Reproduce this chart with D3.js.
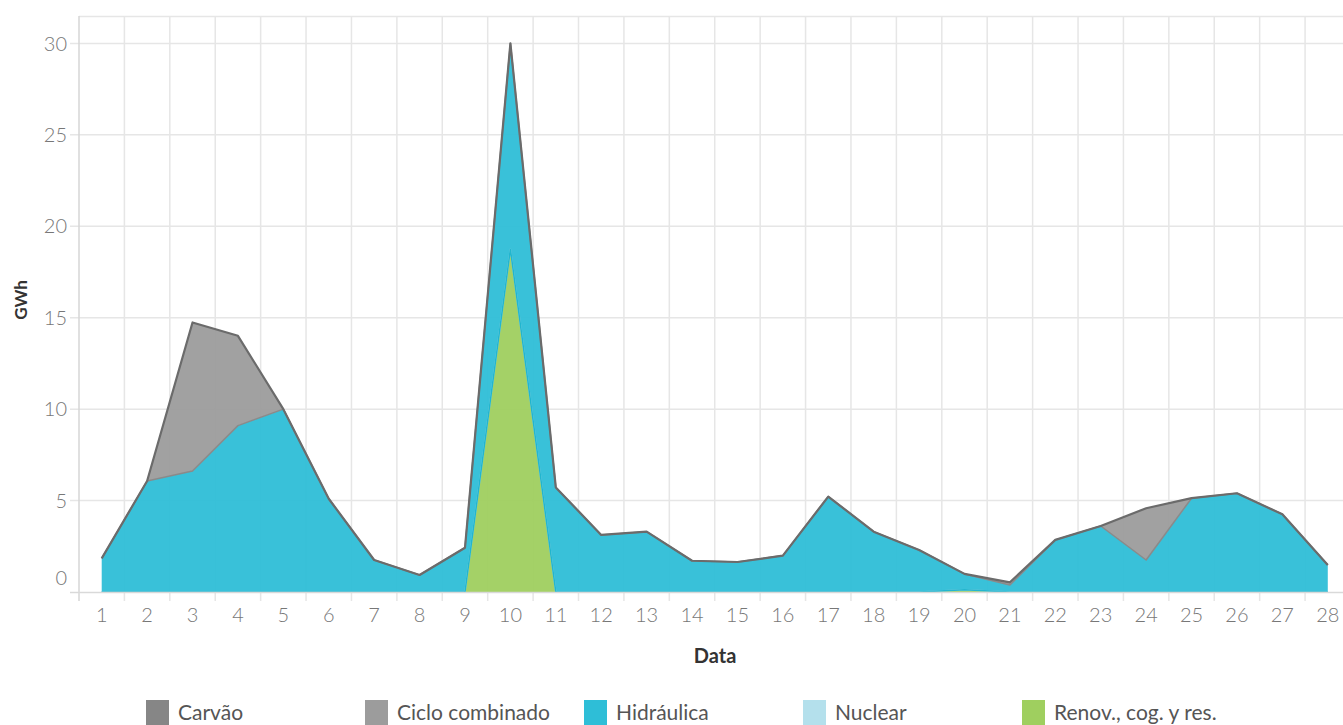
<!DOCTYPE html>
<html>
<head>
<meta charset="utf-8">
<script src="https://cdn.jsdelivr.net/npm/d3@7"></script>
<style>
  html, body { margin: 0; padding: 0; background: #fff; }
  svg { display: block; font-family: Lato, "Open Sans", sans-serif; }
</style>
</head>
<body>
<div id="chart"></div>
<script>
const days = d3.range(1, 29),
  yTicks = [0, 5, 10, 15, 20, 25, 30],
  seriesNames = ["Carvão", "Ciclo combinado", "Hidráulica", "Nuclear", "Renov., cog. y res."];

// GWh per day
const carvao = [0, 0, 0, 0, 0, 0, 0, 0, 0, 0, 0, 0, 0, 0, 0, 0, 0, 0, 0, 0, 0, 0, 0, 0, 0, 0, 0, 0],
  cicloCombinado = [0, 0, 8.12, 4.91, 0, 0, 0, 0, 0, 0, 0, 0, 0, 0, 0, 0, 0, 0, 0, 0, 0.15, 0, 0, 2.83, 0, 0, 0, 0],
  hidraulica = [1.84, 6.07, 6.62, 9.10, 10.0, 5.1, 1.75, 0.93, 2.42, 11.25, 5.72, 3.12, 3.30, 1.71, 1.64, 1.99, 5.22, 3.30, 2.30, 0.87, 0.38, 2.85, 3.61, 1.75, 5.13, 5.40, 4.25, 1.48],
  nuclear = [0, 0, 0, 0, 0, 0, 0, 0, 0, 0, 0, 0, 0, 0, 0, 0, 0, 0, 0, 0, 0, 0, 0, 0, 0, 0, 0, 0],
  renov = [0, 0, 0, 0, 0, 0, 0, 0, 0, 18.75, 0, 0, 0, 0, 0, 0, 0, 0, 0, 0.12, 0, 0, 0, 0, 0, 0, 0, 0];

const WIDTH = 1343,
  HEIGHT = 725,
  TOP = 16,
  BOTTOM = 592,
  LEFT = 79,
  BAND = 45.41,
  GRID = "#e6e6e6",
  fills = {
    "Carvão": "#868686",
    "Ciclo combinado": "#9c9c9c",
    "Hidráulica": "#2ebed7",
    "Nuclear": "#b4e0ec",
    "Renov., cog. y res.": "#9fcf5f"
  },
  edges = {
    "Carvão": "#6b6b6b",
    "Ciclo combinado": "#8a8a8a",
    "Hidráulica": "#22b6cf",
    "Nuclear": "#9fd5e4",
    "Renov., cog. y res.": "#8fc250"
  };

// stack from bottom to top
const table = days.map((d, i) => ({
  day: d,
  "Renov., cog. y res.": renov[i],
  "Nuclear": nuclear[i],
  "Hidráulica": hidraulica[i],
  "Ciclo combinado": cicloCombinado[i],
  "Carvão": carvao[i]
}));
const stackOrder = seriesNames.slice().reverse();
const layers = d3.stack().keys(stackOrder)(table);

const svg = d3.select("#chart").append("svg")
  .attr("width", WIDTH)
  .attr("height", HEIGHT);

const x = d3.scaleBand()
    .domain(days)
    .range([LEFT, LEFT + BAND * days.length])
    .padding(0),
  cx = d => x(d) + x.bandwidth() / 2,
  y = d3.scaleLinear()
    .domain([0, 31.5])
    .range([BOTTOM, TOP]);

// grid
const grid = svg.append("g");
grid.append("line")
  .attr("x1", LEFT).attr("x2", WIDTH)
  .attr("y1", TOP + 0.5).attr("y2", TOP + 0.5)
  .attr("stroke", GRID).attr("stroke-width", 1.5);

grid.selectAll(".hgrid")
  .data(yTicks.filter(t => t > 0))
  .enter()
  .append("line")
  .attr("class", "hgrid")
  .attr("x1", 70).attr("x2", WIDTH)
  .attr("y1", d => y(d)).attr("y2", d => y(d))
  .attr("stroke", GRID).attr("stroke-width", 1.5);

const edgesX = days.map(d => x(d)).concat([x(28) + x.bandwidth()]);
grid.selectAll(".vgrid")
  .data(edgesX)
  .enter()
  .append("line")
  .attr("class", "vgrid")
  .attr("x1", d => d).attr("x2", d => d)
  .attr("y1", TOP).attr("y2", BOTTOM + 9)
  .attr("stroke", (d, i) => i === 0 ? "#d6d6d6" : GRID)
  .attr("stroke-width", 1.5);

// areas
const area = d3.area()
  .x(d => cx(d.data.day))
  .y0(d => y(d[0]))
  .y1(d => y(d[1]));

svg.append("g")
  .selectAll("path")
  .data(layers)
  .enter()
  .append("path")
  .attr("d", area)
  .attr("fill", d => fills[d.key])
  .attr("fill-opacity", 0.95);

// each layer draws its lower edge, later layers over earlier ones
const edgeLine = d3.line()
  .x(d => cx(d.data.day))
  .y(d => y(d[0]));

svg.append("g")
  .selectAll("path")
  .data(layers.slice(1))
  .enter()
  .append("path")
  .attr("d", edgeLine)
  .attr("fill", "none")
  .attr("stroke", d => edges[d.key])
  .attr("stroke-width", d => d.key === "Carvão" ? 2.2 : 1.5)
  .attr("stroke-linejoin", "round");

// baseline
svg.append("line")
  .attr("x1", 70).attr("x2", WIDTH)
  .attr("y1", BOTTOM + 0.5).attr("y2", BOTTOM + 0.5)
  .attr("stroke", "#d9d9d9").attr("stroke-width", 1.5);

// y labels
svg.append("g")
  .selectAll("text")
  .data(yTicks)
  .enter()
  .append("text")
  .attr("x", 67)
  .attr("y", d => d === 0 ? y(d) - 14 : y(d))
  .attr("dy", "0.36em")
  .attr("text-anchor", "end")
  .attr("fill", "#777")
  .attr("font-size", 20)
  .attr("font-weight", 300)
  .text(d => d);

// x labels
svg.append("g")
  .selectAll("text")
  .data(days)
  .enter()
  .append("text")
  .attr("x", d => cx(d))
  .attr("y", 622)
  .attr("text-anchor", "middle")
  .attr("fill", "#777")
  .attr("font-size", 20)
  .attr("font-weight", 300)
  .text(d => d);

svg.append("text")
  .attr("x", 715)
  .attr("y", 663)
  .attr("text-anchor", "middle")
  .attr("fill", "#333")
  .attr("font-size", 20)
  .attr("font-weight", 700)
  .text("Data");

svg.append("text")
  .attr("transform", "translate(27,300) rotate(-90)")
  .attr("text-anchor", "middle")
  .attr("fill", "#333")
  .attr("font-size", 17)
  .attr("font-weight", 700)
  .text("GWh");

// legend
const legend = svg.append("g")
  .selectAll("g")
  .data(seriesNames)
  .enter()
  .append("g")
  .attr("transform", (d, i) => `translate(${146 + i * 219},700)`);

legend.append("rect")
  .attr("width", 23)
  .attr("height", 25)
  .attr("fill", d => fills[d]);

legend.append("text")
  .attr("x", 32)
  .attr("y", 20)
  .attr("fill", "#555")
  .attr("font-size", 21)
  .text(d => d);
</script>
</body>
</html>
